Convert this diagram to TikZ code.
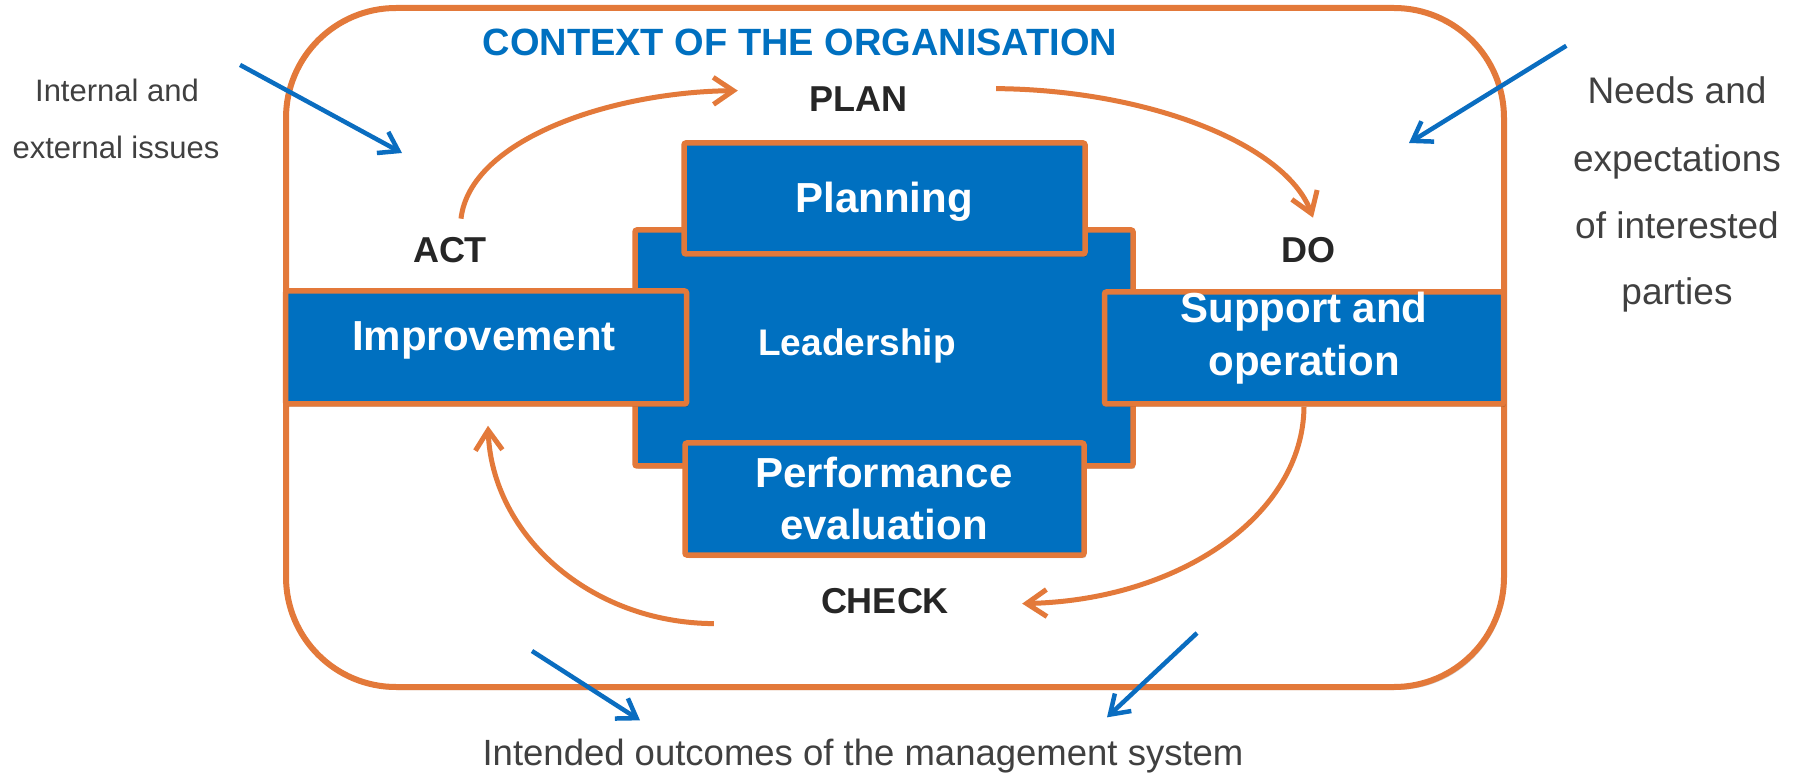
\documentclass[tikz,border=0pt]{standalone}
\usepackage{fontspec}
\setmainfont{Liberation Sans}
\usetikzlibrary{arrows.meta,shadows}

\definecolor{frameorange}{HTML}{E3793A}
\definecolor{boxblue}{HTML}{0070C0}
\definecolor{arrowblue}{HTML}{0A6DC0}
\definecolor{labelgray}{HTML}{404040}
\definecolor{labeldark}{HTML}{262626}

\tikzset{
  softshadow/.style={drop shadow={shadow xshift=2pt, shadow yshift=-3pt, opacity=0.18, fill=black}},
  contextframe/.style={draw=frameorange, line width=6pt, fill=white, rounded corners=110pt,
    inner sep=0pt, softshadow},
  block/.style={draw=frameorange, line width=5.5pt, fill=boxblue, rounded corners=2pt,
    inner sep=0pt, softshadow},
  blocktext/.style={text=white, inner sep=0pt, anchor=base,
    font=\fontsize{42}{50}\selectfont\bfseries},
  pdca/.style={text=labeldark, inner sep=0pt, anchor=base,
    font=\fontsize{36}{43}\selectfont\bfseries},
  sidetext/.style={text=labelgray, inner sep=0pt, anchor=base},
  cyclearrow/.style={draw=frameorange, line width=5pt,
    -{Straight Barb[length=20pt,width=27pt]}},
  inputarrow/.style={draw=arrowblue, line width=4.5pt,
    -{Straight Barb[length=18pt,width=24pt]}},
}

\begin{document}
\begin{tikzpicture}[x=1pt,y=-1pt]
\useasboundingbox (0,0) rectangle (1800,775);

% outer frame: context of the organisation
\node[contextframe, minimum width=1218pt, minimum height=679pt] (context) at (895,347.5) {};
\node[text=boxblue, inner sep=0pt, anchor=base, font=\fontsize{38}{46}\selectfont\bfseries]
  (title) at (800,56) {CONTEXT OF THE ORGANISATION};

% central blocks
\node[block, minimum width=498pt, minimum height=236pt] (leadership) at (884,348) {};
\node[block, minimum width=401pt, minimum height=111pt] (planning) at (884.5,198.5) {};
\node[block, minimum width=401pt, minimum height=113pt] (improvement) at (486,347.5) {};
\node[block, minimum width=399pt, minimum height=112pt] (support) at (1304,348) {};
\node[block, minimum width=399pt, minimum height=112pt] (performance) at (884.5,499) {};

% block texts
\node[blocktext] (planningtext) at (884,213) {Planning};
\node[blocktext, font=\fontsize{37}{44}\selectfont\bfseries] (leadtext) at (857,356) {Leadership};
\node[blocktext] (improvtext) at (484,351) {Improvement};
\node[blocktext] (supporttext1) at (1304,323) {Support and};
\node[blocktext] (supporttext2) at (1304,376) {operation};
\node[blocktext] (perftext1) at (884,488) {Performance};
\node[blocktext] (perftext2) at (884,539) {evaluation};

% PDCA labels
\node[pdca] (plan) at (858,112) {PLAN};
\node[pdca] (do) at (1308,263) {DO};
\node[pdca] (check) at (885,613) {CHECK};
\node[pdca] (act) at (450,263) {ACT};

% inputs and outputs
\node[sidetext, font=\fontsize{31}{37}\selectfont] (internal1) at (117,102) {Internal and};
\node[sidetext, font=\fontsize{31}{37}\selectfont] (internal2) at (116,159) {external issues};
\node[sidetext, font=\fontsize{37}{44}\selectfont] (needs1) at (1677,104) {Needs and};
\node[sidetext, font=\fontsize{37}{44}\selectfont] (needs2) at (1677,172) {expectations};
\node[sidetext, font=\fontsize{37}{44}\selectfont] (needs3) at (1677,239) {of interested};
\node[sidetext, font=\fontsize{37}{44}\selectfont] (needs4) at (1677,305) {parties};
\node[sidetext, font=\fontsize{36.5}{44}\selectfont] (outcomes) at (863,765)
  {Intended outcomes of the management system};

% PDCA cycle
\draw[cyclearrow] ([shift={(11,-19)}]act.north)
  .. controls (470,140) and (610,92) .. ([shift={(-71,-9)}]plan.west);
\draw[cyclearrow] ([shift={(89,-11)}]plan.east)
  .. controls (1150,90) and (1286,145) .. ([shift={(5,-20)}]do.north);
\draw[cyclearrow] (support.south)
  .. controls (1303,515) and (1180,600) .. ([shift={(73,3)}]check.east);
\draw[cyclearrow] ([shift={(-107,23)}]check.west)
  .. controls (590,623) and (492,535) .. ([shift={(2,19)}]improvement.south);

% issues, requirements and outcomes
\coordinate (issuesin) at (402,153);
\coordinate (needsin) at (1409,143);
\coordinate (outleft) at (532,651);
\coordinate (outright) at (1197,633);
\draw[inputarrow] ([shift={(41,-26)}]internal1.east) -- (issuesin);
\draw[inputarrow] ([shift={(-21,-45)}]needs1.west) -- (needsin);
\draw[inputarrow] (outleft) -- ([shift={(-223,-18)}]outcomes.north);
\draw[inputarrow] (outright) -- ([shift={(244,-21)}]outcomes.north);
\end{tikzpicture}
\end{document}
